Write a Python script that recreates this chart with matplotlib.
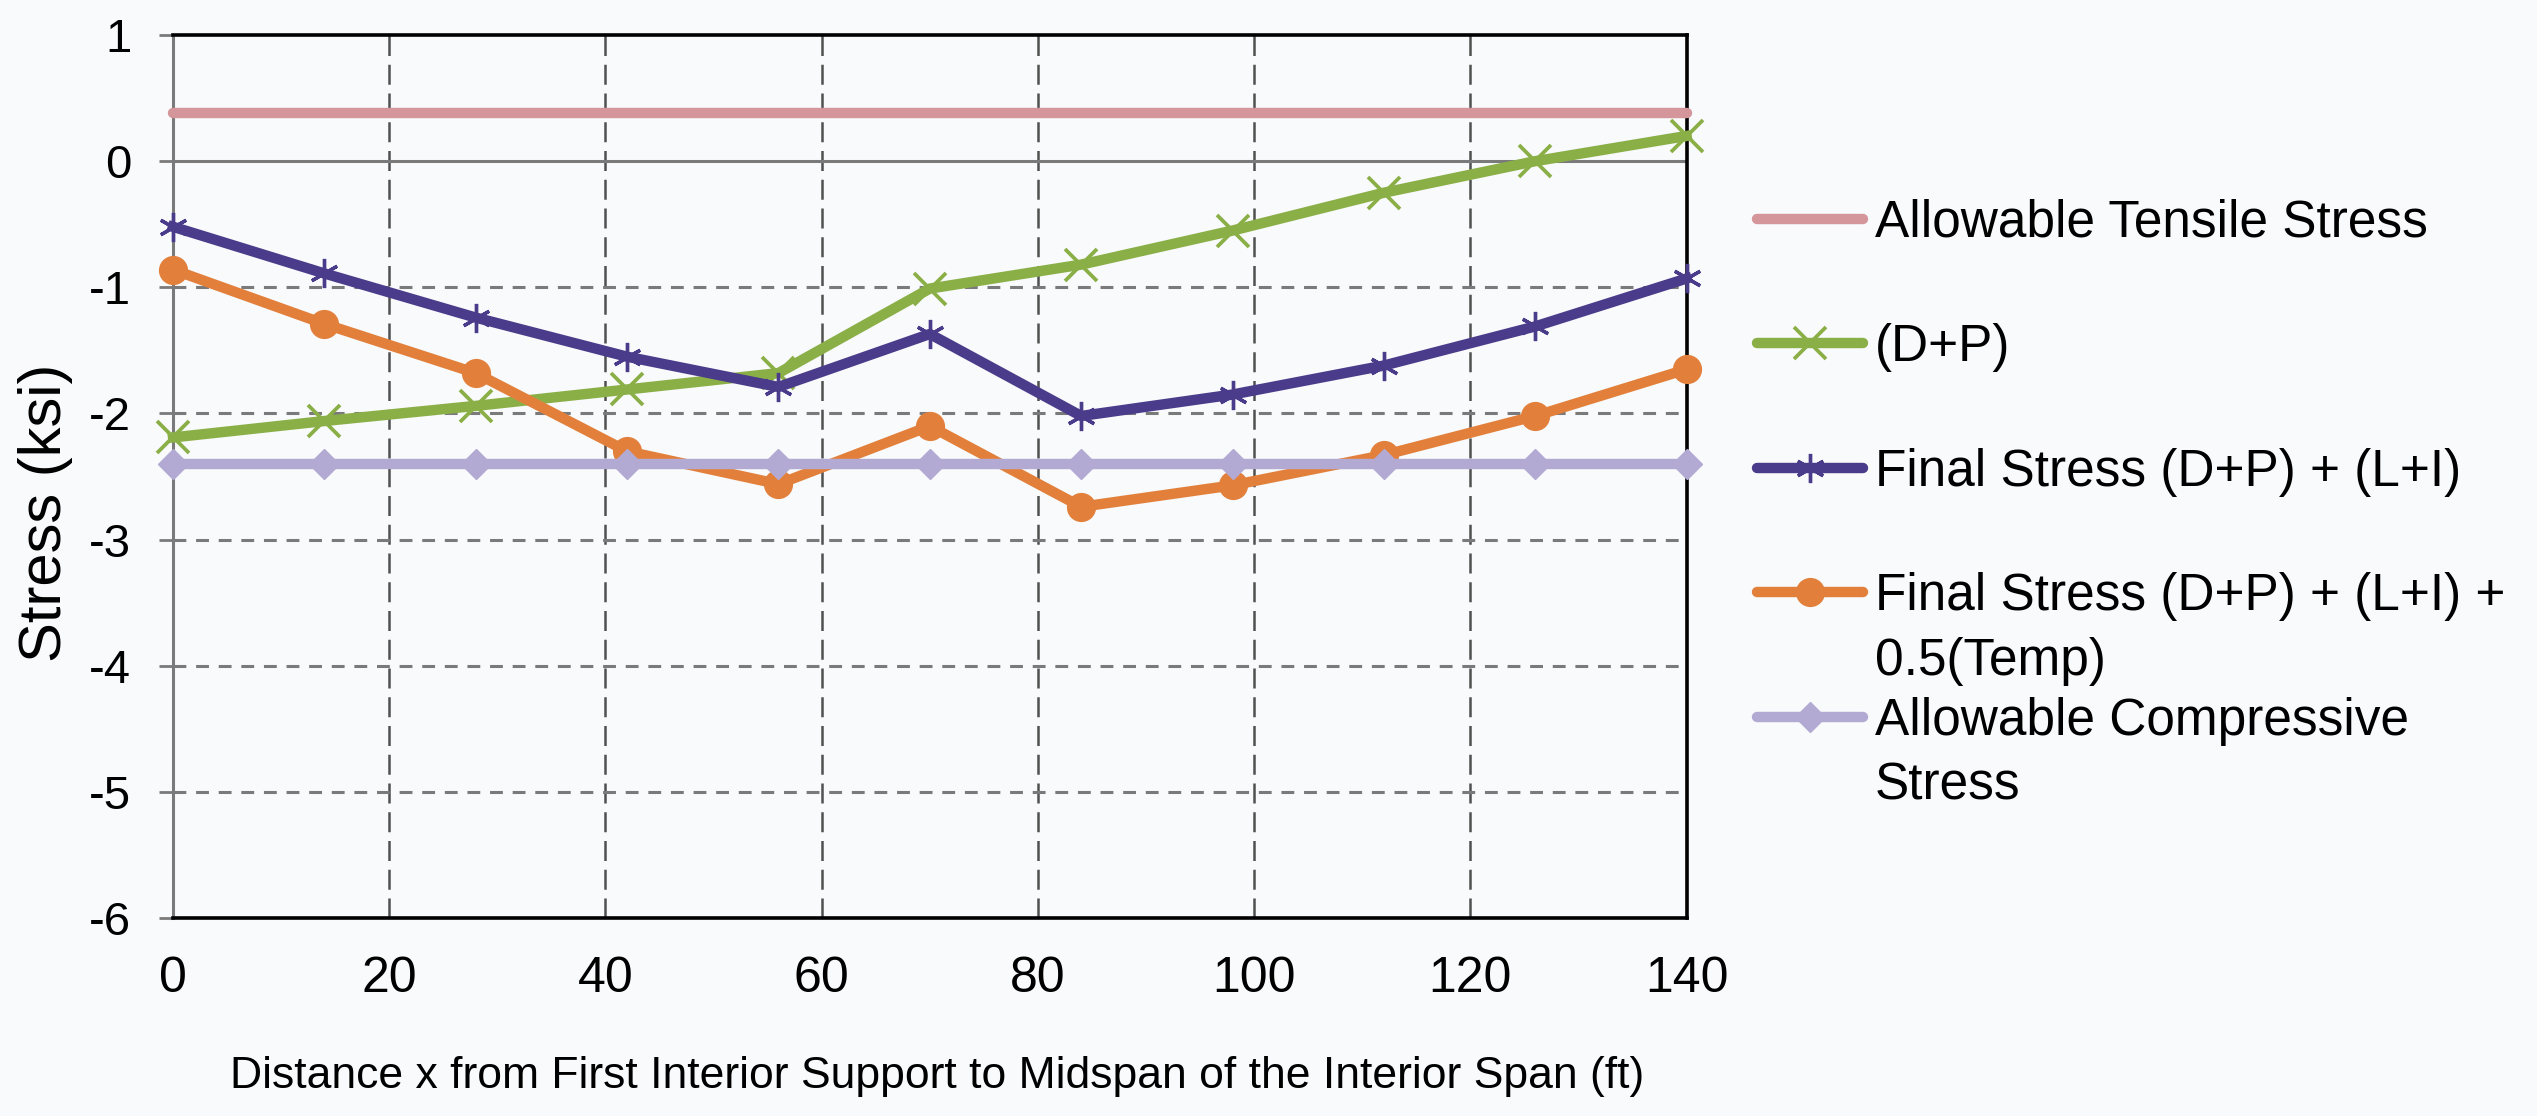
import matplotlib
matplotlib.use("Agg")
import matplotlib.pyplot as plt

# Distance from first interior support (ft)
distance_ft = [0, 14, 28, 42, 56, 70, 84, 98, 112, 126, 140]

# Stresses (ksi)
allowable_tensile = [0.38] * len(distance_ft)
dead_plus_prestress = [-2.19, -2.06, -1.94, -1.81, -1.68, -1.01, -0.82, -0.55, -0.25, 0.0, 0.20]
final_stress = [-0.52, -0.89, -1.24, -1.55, -1.79, -1.37, -2.02, -1.85, -1.62, -1.31, -0.93]
final_stress_temp = [-0.86, -1.29, -1.68, -2.30, -2.56, -2.10, -2.74, -2.57, -2.33, -2.02, -1.65]
allowable_compressive = [-2.4] * len(distance_ft)

series_labels = [
    "Allowable Tensile Stress",
    "(D+P)",
    "Final Stress (D+P) + (L+I)",
    "Final Stress (D+P) + (L+I) +",
    "Allowable Compressive",
]
label_continuations = {3: "0.5(Temp)", 4: "Stress"}

x_ticks = [0, 20, 40, 60, 80, 100, 120, 140]
y_ticks = [1, 0, -1, -2, -3, -4, -5, -6]

plt.rcParams["font.family"] = ["Liberation Sans", "DejaVu Sans"]
bg = "#F8FAFB"

fig = plt.figure(figsize=(25.37, 11.16), dpi=100, facecolor=bg)
ax = fig.add_axes([0.0682, 0.1774, 0.5966, 0.7912], facecolor=bg)

lw = 7.5
ax.plot(distance_ft, allowable_tensile, color="#D4959B", lw=lw,
        solid_capstyle="round", clip_on=False, zorder=3, label=series_labels[0])
ax.plot(distance_ft, dead_plus_prestress, color="#8BAF47", lw=lw, marker="x",
        ms=23, mew=2.7, clip_on=False, zorder=4, label=series_labels[1])
ax.plot(distance_ft, final_stress, color="#4B3B8B", lw=lw, marker=(6, 2, 0),
        ms=21, mew=2.4, clip_on=False, zorder=5, label=series_labels[2])
ax.plot(distance_ft, final_stress_temp, color="#E2803B", lw=lw, marker="o",
        ms=20, clip_on=False, zorder=6, label=series_labels[3])
ax.plot(distance_ft, allowable_compressive, color="#B3AAD4", lw=lw, marker="D",
        ms=15, clip_on=False, zorder=7, label=series_labels[4])

ax.set_xlim(0, 140)
ax.set_ylim(-6, 1)
ax.set_xticks(x_ticks)
ax.set_yticks(y_ticks)

# gridlines: long dashes vertically, short dashes horizontally
for xv in x_ticks[1:-1]:
    ax.axvline(xv, color="#505050", lw=1.8, ls=(0, (8, 3.5)), zorder=1)
for yv in y_ticks:
    if yv in (1, 0, -6):
        continue
    ax.axhline(yv, color="#7A7A7A", lw=2.2, ls=(0, (4.2, 3.2)), zorder=1)
# horizontal category axis crossing at zero
ax.axhline(0, color="#7A7A7A", lw=2.2, zorder=2)

for side in ("top", "right", "bottom"):
    ax.spines[side].set_color("black")
    ax.spines[side].set_linewidth(2.6)
ax.spines["left"].set_color("#7A7A7A")
ax.spines["left"].set_linewidth(2.2)

ax.tick_params(axis="y", direction="out", length=10, width=2.0, color="#7A7A7A",
               pad=20, labelsize=34)
ax.tick_params(axis="x", length=0, pad=27, labelsize=36)
ax.set_yticklabels([str(v) for v in y_ticks])

ax.set_xlabel("Distance x from First Interior Support to Midspan of the Interior Span (ft)",
              fontsize=32, va="center")
ax.xaxis.set_label_coords(0.505, -0.179)
ax.set_ylabel("Stress (ksi)", fontsize=43, va="center")
ax.yaxis.set_label_coords(-0.084, 0.459)

leg = ax.legend(loc="upper left", bbox_to_anchor=(0.6925, 0.822),
                bbox_transform=fig.transFigure, frameon=False, fontsize=37,
                handlelength=2.06, handletextpad=0.23, labelspacing=1.47,
                borderpad=0, borderaxespad=0)
for line in leg.get_lines():
    line.set_solid_capstyle("round")

# second lines of the wrapped legend entries
for idx, extra in label_continuations.items():
    ax.annotate(extra, xy=(0, 0), xycoords=leg.get_texts()[idx],
                xytext=(0, -16), textcoords="offset pixels",
                ha="left", va="top", fontsize=37, zorder=10,
                annotation_clip=False)

fig.savefig("out.png", dpi=100, facecolor=bg)
